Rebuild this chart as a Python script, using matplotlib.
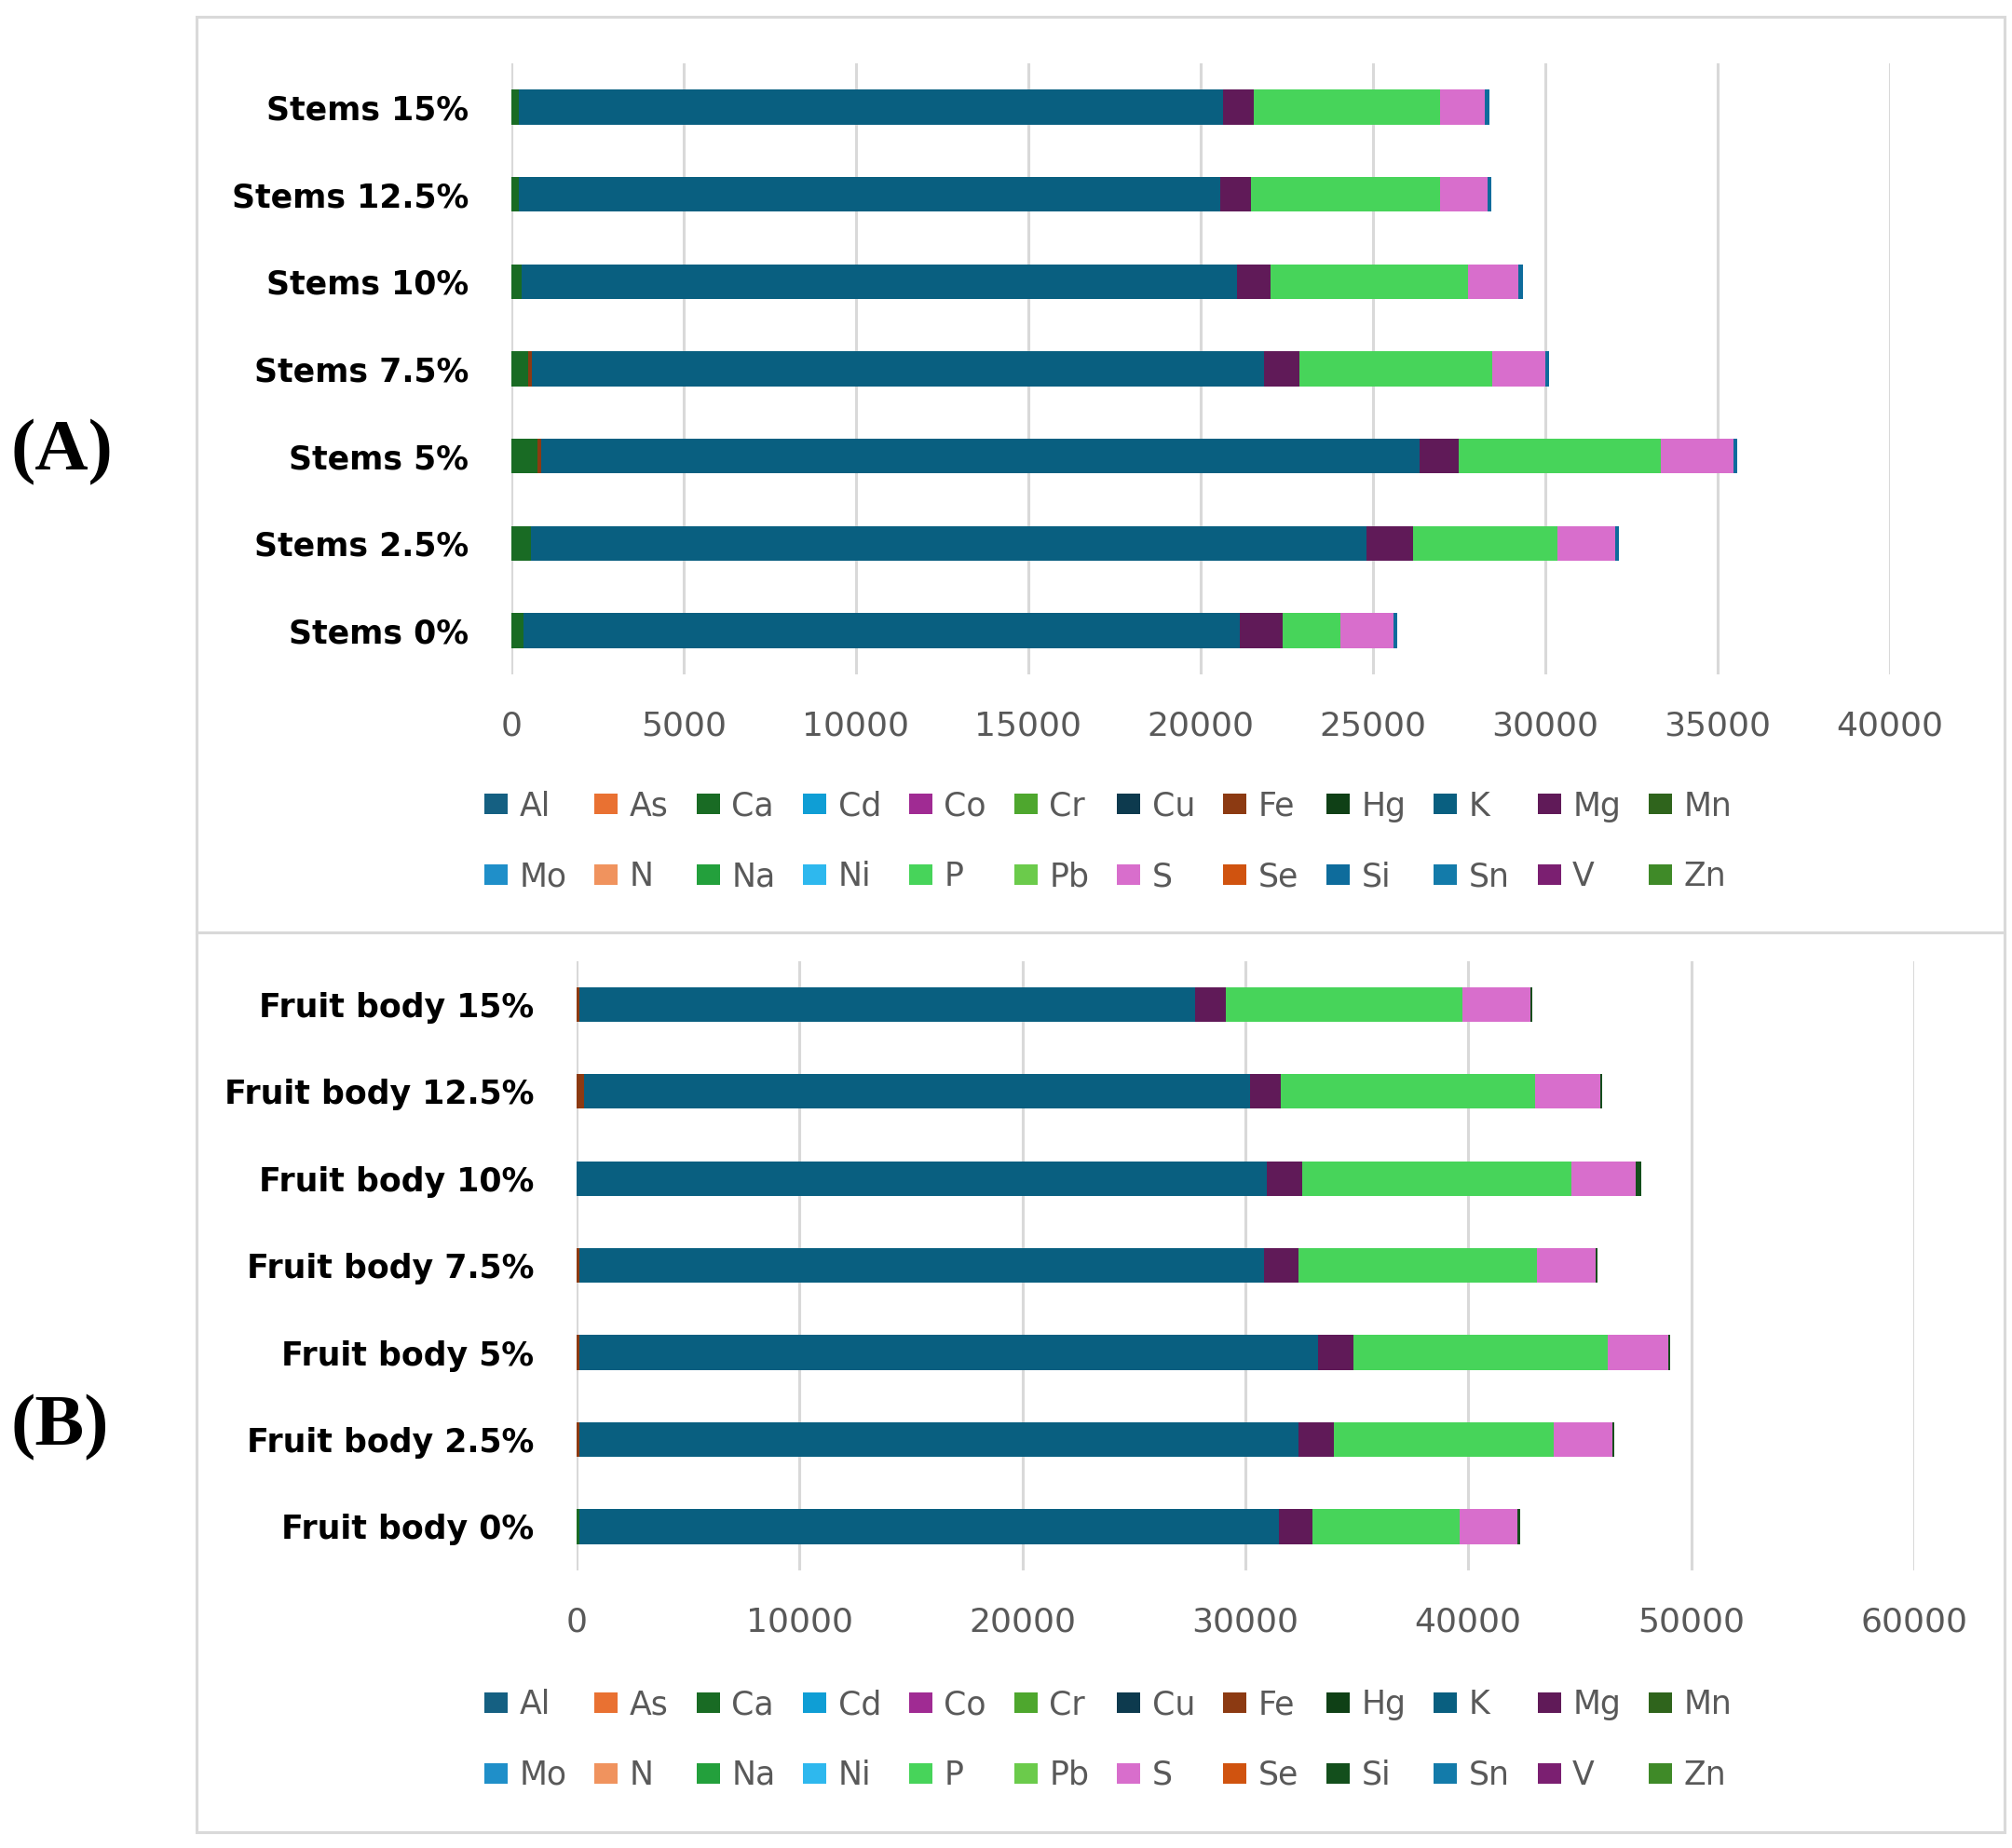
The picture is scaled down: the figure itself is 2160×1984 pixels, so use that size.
import matplotlib
matplotlib.use("Agg")
import matplotlib.pyplot as plt
from matplotlib.patches import Rectangle
import numpy as np

# element order used for stacking and legend
elements = ["Al", "As", "Ca", "Cd", "Co", "Cr", "Cu", "Fe", "Hg", "K", "Mg", "Mn",
            "Mo", "N", "Na", "Ni", "P", "Pb", "S", "Se", "Si", "Sn", "V", "Zn"]

# categories, bottom to top
stems_labels = ["Stems 0%", "Stems 2.5%", "Stems 5%", "Stems 7.5%",
                "Stems 10%", "Stems 12.5%", "Stems 15%"]
fruit_labels = ["Fruit body 0%", "Fruit body 2.5%", "Fruit body 5%", "Fruit body 7.5%",
                "Fruit body 10%", "Fruit body 12.5%", "Fruit body 15%"]

# (A) stems, values (other elements too small to see)
stems_ca = [360, 570, 760, 490, 300, 230, 230]
stems_fe = [0, 0, 100, 100, 0, 0, 0]
stems_k = [20775, 24255, 25500, 21240, 20760, 20335, 20410]
stems_mg = [1255, 1335, 1120, 1040, 975, 910, 900]
stems_p = [1670, 4195, 5880, 5590, 5730, 5470, 5400]
stems_s = [1540, 1670, 2090, 1550, 1460, 1380, 1310]
stems_si = [115, 110, 130, 110, 120, 110, 120]

# (B) fruit body
fruit_ca = [120, 0, 0, 0, 0, 0, 0]
fruit_fe = [0, 125, 125, 125, 0, 330, 140]
fruit_k = [31400, 32250, 33120, 30720, 30965, 29870, 27590]
fruit_mg = [1500, 1600, 1620, 1530, 1600, 1390, 1390]
fruit_p = [6615, 9875, 11390, 10710, 12050, 11405, 10620]
fruit_s = [2580, 2630, 2700, 2610, 2890, 2910, 3050]
fruit_si = [105, 85, 110, 105, 245, 100, 70]

colors = {
    "Al": "#156082", "As": "#E97132", "Ca": "#196B24", "Cd": "#0F9ED5",
    "Co": "#A02B93", "Cr": "#4EA72E", "Cu": "#0D3A4E", "Fe": "#8C3A12",
    "Hg": "#0F4016", "K": "#095F80", "Mg": "#601A58", "Mn": "#2F641C",
    "Mo": "#1F8FC9", "N": "#F0935E", "Na": "#23A03C", "Ni": "#2EB8EE",
    "P": "#47D45A", "Pb": "#6BCB4B", "S": "#D86ECC", "Se": "#D0530F",
    "Si": "#0E6C9C", "Sn": "#137BAA", "V": "#7B1F71", "Zn": "#3F8A28",
}

GRID = "#d9d9d9"
TICK_GREY = "#595959"


def draw_panel(fig, rect, labels, series, xmax, step, si_color, legend_y):
    ax = fig.add_axes(rect)
    y = np.arange(len(labels))
    left = np.zeros(len(labels))
    handles = {}
    for el in elements:
        vals = np.array(series.get(el, [0] * len(labels)), dtype=float)
        c = si_color if el == "Si" else colors[el]
        handles[el] = ax.barh(y, vals, left=left, height=0.4, color=c,
                              linewidth=0, label=el, zorder=3)
        left += vals

    ax.set_xlim(0, xmax)
    ax.set_xticks(np.arange(0, xmax + 1, step))
    ax.set_ylim(-0.5, len(labels) - 0.5)
    ax.set_yticks(y, labels)
    for sp in ax.spines.values():
        sp.set_visible(False)
    ax.grid(axis="x", color=GRID, lw=2.2)
    ax.set_axisbelow(True)
    ax.tick_params(axis="x", length=0, pad=28, labelsize=26, labelcolor=TICK_GREY)
    ax.tick_params(axis="y", length=0, pad=33, labelsize=25)
    for t in ax.get_yticklabels():
        t.set_fontweight("bold")

    # legend: two rows, filled row-wise
    order = []
    for i in range(12):
        order += [elements[i], elements[i + 12]]
    fig.legend([handles[e] for e in order], order, ncol=12, frameon=False,
               loc="center left", bbox_to_anchor=(0.2407, legend_y),
               fontsize=25, labelcolor=TICK_GREY, handlelength=0.72,
               handleheight=0.6, handletextpad=0.36, columnspacing=0.86,
               labelspacing=1.2, borderpad=0, borderaxespad=0)
    return ax


fig = plt.figure(figsize=(21.6, 19.84), dpi=100)

stems = {"Ca": stems_ca, "Fe": stems_fe, "K": stems_k, "Mg": stems_mg,
         "P": stems_p, "S": stems_s, "Si": stems_si}
fruit = {"Ca": fruit_ca, "Fe": fruit_fe, "K": fruit_k, "Mg": fruit_mg,
         "P": fruit_p, "S": fruit_s, "Si": fruit_si}

draw_panel(fig, [0.2541, 0.6351, 0.6852, 0.3306], stems_labels, stems,
           40000, 5000, "#0E6C9C", 0.5446)
draw_panel(fig, [0.2866, 0.1504, 0.6647, 0.3296], fruit_labels, fruit,
           60000, 10000, "#134F1C", 0.0585)

# chart area borders
for y0, h in [(0.4955, 0.4954), (0.0086, 0.4869)]:
    fig.patches.append(Rectangle((0.0977, y0), 0.8986, h, transform=fig.transFigure,
                                 fill=False, edgecolor=GRID, lw=2.2))

fig.text(0.0306, 0.755, "(A)", family="Liberation Serif", weight="bold",
         fontsize=57, ha="center", va="center")
fig.text(0.0296, 0.2273, "(B)", family="Liberation Serif", weight="bold",
         fontsize=57, ha="center", va="center")

fig.savefig("out.png", dpi=100)
